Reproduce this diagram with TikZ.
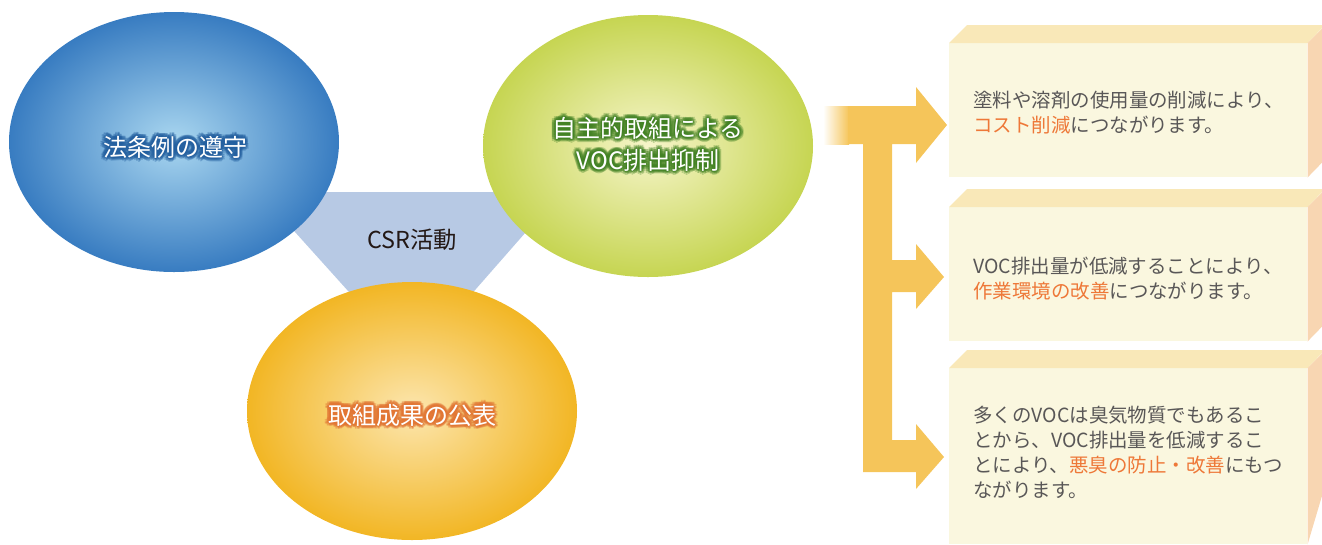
\documentclass[tikz,border=0pt]{standalone}
\usepackage{fontspec}
\newfontfamily\jpfont{Noto Sans CJK JP}
\usetikzlibrary{shapes.geometric,positioning}

\definecolor{triblue}{RGB}{183,201,228}
\definecolor{bluein}{RGB}{170,215,240}
\definecolor{blueout}{RGB}{56,124,193}
\definecolor{blueglow}{RGB}{36,96,160}
\definecolor{greenin}{RGB}{246,245,202}
\definecolor{greenout}{RGB}{198,213,82}
\definecolor{greenglow}{RGB}{66,130,36}
\definecolor{orangein}{RGB}{252,230,175}
\definecolor{orangeout}{RGB}{242,182,36}
\definecolor{orangeglow}{RGB}{226,118,52}
\definecolor{arrowc}{RGB}{245,197,90}
\definecolor{frontc}{RGB}{250,247,223}
\definecolor{topc}{RGB}{249,232,184}
\definecolor{sidec}{RGB}{248,214,178}
\definecolor{boxgray}{RGB}{89,87,87}
\definecolor{hiorange}{RGB}{238,120,56}
\definecolor{csrblack}{RGB}{35,24,21}

\newcommand{\hilite}[1]{{\color{hiorange}#1}}

\begin{document}
\begin{tikzpicture}[x=0.75pt,y=0.75pt,yscale=-1,xscale=1,
  oval/.style={ellipse,minimum width=247.5pt,minimum height=195pt,inner sep=0pt},
  ovaltext/.style={font=\jpfont\fontsize{18}{24}\selectfont,align=center,inner sep=0pt},
  front/.style={fill=frontc,minimum width=268.5pt,inner sep=0pt,anchor=north west},
  boxtext/.style={font=\jpfont\fontsize{14.6}{18.75}\selectfont,text=boxgray,align=left,anchor=west,inner sep=0pt}]
\useasboundingbox (0,0) rectangle (1322,544);

%Triangle behind the ovals
\fill [triblue] (259,192) -- (561,192) -- (412,362) -- cycle ;

%Ovals
\node (lawE) [oval,inner color=bluein,outer color=blueout] at (174,142) {};
\node (vocE) [oval,minimum height=196.5pt,inner color=greenin,outer color=greenout] at (648,146) {};
\node (pubE) [oval,minimum height=193.5pt,inner color=orangein,outer color=orangeout] at (412,411) {};

% Text Node
\node (csr) [font=\jpfont\fontsize{17.5}{20}\selectfont,text=csrblack] at (412,240) {CSR活動};

% Oval labels with a soft halo
\foreach \r in {1.3,2.6,3.9}{\foreach \a in {0,30,...,330}{
  \node [ovaltext,text=blueglow,opacity=.3,shift={(\a:\r)}] at (175,147) {法条例の遵守};
  \node [ovaltext,text=greenglow,opacity=.3,shift={(\a:\r)}] at (648,144) {自主的取組による\\VOC排出抑制};
  \node [ovaltext,text=orangeglow,opacity=.3,shift={(\a:\r)}] at (412,415) {取組成果の公表};
}}
\node (lawT) [ovaltext,text=white] at (175,147) {法条例の遵守};
\node (vocT) [ovaltext,text=white] at (648,144) {自主的取組による\\VOC排出抑制};
\node (pubT) [ovaltext,text=white] at (412,415) {取組成果の公表};

%Bracket arrow
\shade [left color=white,right color=arrowc] (823,106) rectangle (849,144) ;
\fill [arrowc] (848,106) -- (916,106) -- (916,87) -- (947,125) -- (916,163) -- (916,144) -- (892,144)
  -- (892,260) -- (916,260) -- (916,244) -- (944,277) -- (916,309) -- (916,292) -- (892,292)
  -- (892,440) -- (916,440) -- (916,424) -- (944,457) -- (916,489) -- (916,472) -- (863,472)
  -- (863,144) -- (848,144) -- cycle ;

%Boxes
\node (box1) [front,minimum height=100.5pt] at (949,43) {};
\node (box2) [front,minimum height=100.5pt] at (949,207) {};
\node (box3) [front,minimum height=132pt] at (949,368) {};
\foreach \b in {box1,box2,box3}{
  \fill [topc] (\b.north west) -- ++(18,-18) -- ++(358,0) -- (\b.north east) -- cycle ;
  \fill [sidec] (\b.north east) -- ++(18,-18) -- ++(0,134) -- (\b.south east) -- cycle ;
}

% Text Node
\node (txt1) [boxtext] at ([xshift=18pt,yshift=2pt]box1.west) {塗料や溶剤の使用量の削減により、\\\hilite{コスト削減}につながります。};
% Text Node
\node (txt2) [boxtext] at ([xshift=18pt,yshift=3pt]box2.west) {VOC排出量が低減することにより、\\\hilite{作業環境の改善}につながります。};
% Text Node
\node (txt3) [boxtext] at ([xshift=18pt,yshift=-3pt]box3.west) {多くのVOCは臭気物質でもあるこ\\とから、VOC排出量を低減するこ\\とにより、\hilite{悪臭の防止・改善}にもつ\\ながります。};
\end{tikzpicture}
\end{document}
